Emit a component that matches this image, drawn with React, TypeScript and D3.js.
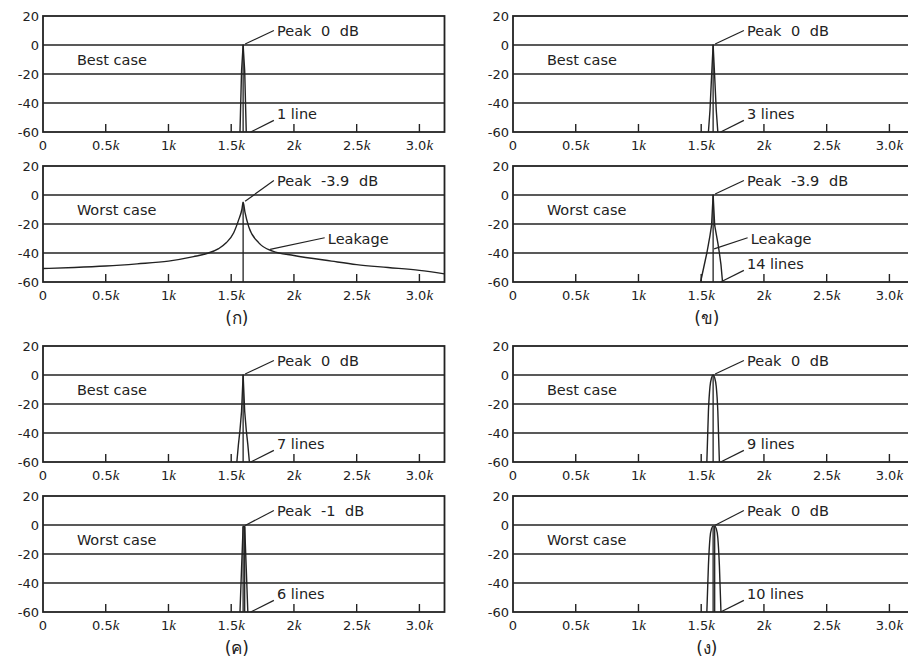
import React from 'react'
import * as d3 from 'd3'

// axes
const freqTicks = [0, 500, 1000, 1500, 2000, 2500, 3000]
const freqTickLabels = ['0', '0.5', '1', '1.5', '2', '2.5', '3.0']
const dbTicks = [20, 0, -20, -40, -60]
const dbGrid = [0, -20, -40]

const peakHz = 1595
const lineStepHz = 12.5

// spectral line levels (dB) around the peak, -60 is the display floor
const bestA = [-60, -18, 0, -18, -60]
const bestB = [-60, -45, -22, 0, -22, -45, -60]
const worstB = [-60, -55, -50, -45, -40, -34, -28, -21, 0, -21, -27, -33, -40, -48, -60]
const bestC = [-60, -48, -38, -25, 0, -25, -38, -48, -60]
const worstC = [-60, -30, -1, -1, -30, -60]
const bestD = [-60, -25, -8, -2, 0, -2, -8, -25, -60]
const worstD = [-60, -28, -9, -2.5, -0.8, -0.8, -2.5, -9, -28, -60]

// worst case of (ก): leakage skirt
const leakageHz = [0, 250, 500, 750, 1000, 1200, 1300, 1400, 1460, 1520, 1560, 1585, 1595, 1610, 1640, 1720, 1830, 2000, 2300, 2500, 2750, 3000, 3200]
const leakageDb = [-50.7, -50, -49, -47.5, -45.6, -42.5, -40.5, -37, -33, -26, -17, -10, -5, -12, -22, -33, -38.7, -41.7, -45.6, -48, -50, -52, -54.4]

const captions = ['(ก)', '(ข)', '(ค)', '(ง)']

type PanelDef = {
  col: number
  row: number
  caseText: string
  peakText: string
  countText?: string
  lines?: number[]
  round?: boolean
  leak?: { hz: number; db: number; textHz: number }
}

const panels: PanelDef[] = [
  { col: 0, row: 0, caseText: 'Best case', peakText: 'Peak 0 dB', countText: '1 line', lines: bestA },
  { col: 0, row: 1, caseText: 'Worst case', peakText: 'Peak -3.9 dB', leak: { hz: 1810, db: -37.5, textHz: 2270 } },
  { col: 1, row: 0, caseText: 'Best case', peakText: 'Peak 0 dB', countText: '3 lines', lines: bestB },
  { col: 1, row: 1, caseText: 'Worst case', peakText: 'Peak -3.9 dB', countText: '14 lines', lines: worstB, leak: { hz: 1603, db: -37.2, textHz: 1895 } },
  { col: 0, row: 2, caseText: 'Best case', peakText: 'Peak 0 dB', countText: '7 lines', lines: bestC },
  { col: 0, row: 3, caseText: 'Worst case', peakText: 'Peak -1 dB', countText: '6 lines', lines: worstC },
  { col: 1, row: 2, caseText: 'Best case', peakText: 'Peak 0 dB', countText: '9 lines', lines: bestD, round: true },
  { col: 1, row: 3, caseText: 'Worst case', peakText: 'Peak 0 dB', countText: '10 lines', lines: worstD, round: true },
]

const W = 908
const H = 659
const colX = [43, 513]
const rowY = [16, 166, 346, 496]
const plotW = 401.5
const plotH = 116
const ink = '#222'
const sans = '"DejaVu Sans", sans-serif'

function Panel({ p }: { p: PanelDef }) {
  const x0 = colX[p.col]
  const y0 = rowY[p.row]
  const x = d3.scaleLinear().domain([0, 3200]).range([x0, x0 + plotW])
  const y = d3.scaleLinear().domain([-60, 20]).range([y0 + plotH, y0])

  let pts: [number, number][]
  if (p.lines) {
    const iMax = d3.maxIndex(p.lines)
    pts = p.lines.map((v, i) => [peakHz + (i - iMax) * lineStepHz, v])
  } else {
    pts = leakageHz.map((f, i) => [f, leakageDb[i]])
  }
  const top = d3.max(pts, d => d[1]) as number
  const stems = pts.filter(d => d[1] >= top - 1.5)
  const peak = pts[d3.maxIndex(pts, d => d[1])]

  const line = d3
    .line<[number, number]>()
    .x(d => x(d[0]))
    .y(d => y(d[1]))
    .curve(!p.lines || p.round ? d3.curveMonotoneX : d3.curveLinear)

  return (
    <g>
      {/* grid and frame */}
      {dbGrid.map(v => (
        <line key={v} x1={x0} x2={x0 + plotW} y1={y(v)} y2={y(v)} stroke={ink} strokeWidth={1.7} />
      ))}
      <rect x={x0} y={y0} width={plotW} height={plotH} fill="none" stroke={ink} strokeWidth={1.8} />
      {freqTicks.slice(1).map(f => (
        <line key={f} x1={x(f)} x2={x(f)} y1={y(-60)} y2={y(-60) - 8} stroke={ink} strokeWidth={1.4} />
      ))}

      {/* y labels */}
      {dbTicks.map(v => (
        <text key={v} x={x0 - 4} y={y(v) + 4.7} textAnchor="end" fontSize={13} fontFamily={sans} fill={ink}>
          {v < 0 ? '-' + Math.abs(v) : v}
        </text>
      ))}
      {/* x labels */}
      {freqTicks.map((f, i) => (
        <text key={f} x={x(f)} y={y(-60) + 18} textAnchor="middle" fontSize={13} fontFamily={sans} fill={ink}>
          {freqTickLabels[i]}
          {f > 0 && (
            <tspan fontFamily='"Liberation Serif", serif' fontStyle="italic" fontSize={15}>
              k
            </tspan>
          )}
        </text>
      ))}

      {/* spectrum */}
      <path d={line(pts) as string} fill="none" stroke={ink} strokeWidth={1.4} strokeLinejoin="round" />
      {stems.map(d => (
        <line key={d[0]} x1={x(d[0])} x2={x(d[0])} y1={y(-60)} y2={y(d[1])} stroke={ink} strokeWidth={1.3} />
      ))}

      {/* annotations */}
      <text x={x(270)} y={y(-13.5)} fontSize={14.5} fontFamily={sans} fill={ink}>
        {p.caseText}
      </text>
      <line x1={x(peak[0]) + 2} y1={y(peak[1]) - 1} x2={x(1840)} y2={y(10)} stroke={ink} strokeWidth={1.2} />
      <text x={x(1865)} y={y(6)} fontSize={14.5} fontFamily={sans} fill={ink} wordSpacing={5}>
        {p.peakText}
      </text>
      {p.countText && (
        <g>
          <line x1={x(1655)} y1={y(-60)} x2={x(1840)} y2={y(-52)} stroke={ink} strokeWidth={1.2} />
          <text x={x(1865)} y={y(-51)} fontSize={14.5} fontFamily={sans} fill={ink}>
            {p.countText}
          </text>
        </g>
      )}
      {p.leak && (
        <g>
          <line x1={x(p.leak.hz)} y1={y(p.leak.db)} x2={x(p.leak.textHz - 25)} y2={y(-29.5)} stroke={ink} strokeWidth={1.2} />
          <text x={x(p.leak.textHz)} y={y(-34)} fontSize={14.5} fontFamily={sans} fill={ink}>
            Leakage
          </text>
        </g>
      )}
      {p.row % 2 === 1 && (
        <text x={x(1545)} y={y(-60) + 42} textAnchor="middle" fontSize={17} fontFamily={sans} fill={ink}>
          {captions[(p.row === 1 ? 0 : 2) + p.col]}
        </text>
      )}
    </g>
  )
}

export default function App() {
  return (
    <svg
      width={W}
      height={H}
      style={{ position: 'absolute', left: 0, top: 0, background: '#fff' }}
    >
      <rect width={W} height={H} fill="#fff" />
      {panels.map((p, i) => (
        <Panel key={i} p={p} />
      ))}
    </svg>
  )
}
